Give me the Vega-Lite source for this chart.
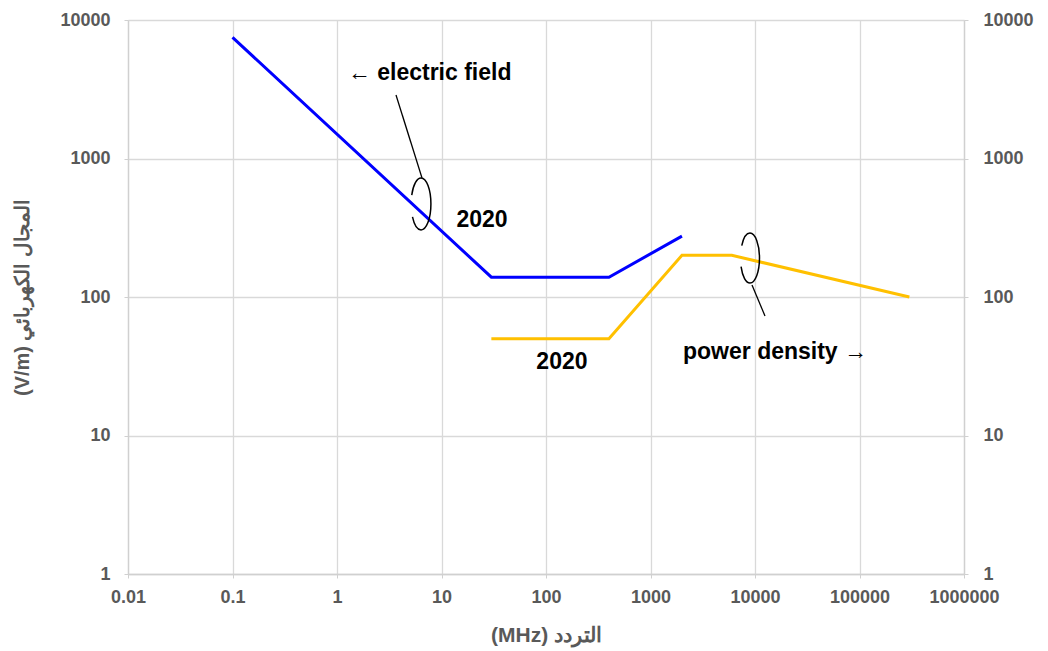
{
  "$schema": "https://vega.github.io/schema/vega-lite/v6.json",
  "width": 836,
  "height": 554,
  "autosize": {"type": "none"},
  "padding": {"left": 128, "top": 20, "right": 84, "bottom": 77},
  "background": "white",
  "config": {
    "view": {"stroke": null},
    "font": "Liberation Sans",
    "axis": {
      "labelFont": "Liberation Sans",
      "labelFontWeight": "bold",
      "labelFontSize": 18,
      "labelColor": "#595959",
      "titleFont": "Liberation Sans",
      "titleFontWeight": "bold",
      "titleFontSize": 20,
      "titleColor": "#595959",
      "gridColor": "#d9d9d9",
      "gridWidth": 1.3,
      "domainColor": "#d0d0d0",
      "domainWidth": 1.3,
      "tickColor": "#d0d0d0",
      "tickSize": 4
    }
  },
  "datasets": {
    "efield": [
      {"f": 0.1, "v": 7500},
      {"f": 30, "v": 139},
      {"f": 400, "v": 139},
      {"f": 2000, "v": 275}
    ],
    "power": [
      {"f": 30, "v": 50},
      {"f": 400, "v": 50},
      {"f": 2000, "v": 200},
      {"f": 6000, "v": 200},
      {"f": 300000, "v": 100}
    ],
    "labels": [
      {"f": 1.27, "v": 4140, "t": "← electric field"},
      {"f": 2047, "v": 40.1, "t": "power density →"}
    ],
    "years": [
      {"f": 24.4, "v": 360, "t": "2020"},
      {"f": 142, "v": 34, "t": "2020"}
    ],
    "leaders": [
      {"f": 3.67, "v": 2874, "f2": 6.51, "v2": 723},
      {"f": 9360, "v": 122, "f2": 12465, "v2": 73}
    ],
    "loop1": [{"f": 6.37, "v": 470}],
    "loop2": [{"f": 8955, "v": 191}]
  },
  "layer": [
    {
      "data": {"name": "efield"},
      "mark": {"type": "line", "color": "#0000ff", "strokeWidth": 3},
      "encoding": {
        "x": {
          "field": "f", "type": "quantitative",
          "scale": {"type": "log", "domain": [0.01, 1000000], "nice": false},
          "axis": {
            "title": "(MHz) التردد",
            "titleFontSize": 21,
            "values": [0.01, 0.1, 1, 10, 100, 1000, 10000, 100000, 1000000],
            "format": ".2~f",
            "grid": true,
            "labelFlush": false,
            "labelOverlap": false,
            "labelPadding": 10,
            "titlePadding": 18
          }
        },
        "y": {
          "field": "v", "type": "quantitative",
          "scale": {"type": "log", "domain": [1, 10000], "nice": false},
          "axis": {
            "orient": "left",
            "title": "(V/m) المجال الكهربائي",
            "values": [1, 10, 100, 1000, 10000],
            "format": "d",
            "grid": true,
            "labelFlush": false,
            "labelOverlap": false,
            "labelPadding": 14,
            "titlePadding": 27
          }
        }
      }
    },
    {
      "data": {"name": "power"},
      "mark": {"type": "line", "color": "#ffc000", "strokeWidth": 3},
      "encoding": {
        "x": {"field": "f", "type": "quantitative", "scale": {"type": "log", "domain": [0.01, 1000000], "nice": false}},
        "y": {
          "field": "v", "type": "quantitative",
          "scale": {"type": "log", "domain": [1, 10000], "nice": false},
          "axis": {
            "orient": "right",
            "title": null,
            "values": [1, 10, 100, 1000, 10000],
            "format": "d",
            "grid": false,
            "labelFlush": false,
            "labelOverlap": false,
            "labelPadding": 15
          }
        }
      }
    },
    {
      "data": {"name": "leaders"},
      "mark": {"type": "rule", "color": "#000000", "strokeWidth": 1.3},
      "encoding": {
        "x": {"field": "f", "type": "quantitative", "scale": {"type": "log", "domain": [0.01, 1000000], "nice": false}},
        "x2": {"field": "f2"},
        "y": {"field": "v", "type": "quantitative", "scale": {"type": "log", "domain": [1, 10000], "nice": false}, "axis": null},
        "y2": {"field": "v2"}
      }
    },
    {
      "data": {"name": "loop1"},
      "mark": {
        "type": "point", "filled": false, "stroke": "#000000", "strokeWidth": 1.5, "opacity": 1, "size": 2704,
        "shape": "M -0.357 -0.342 C -0.302 -0.737 -0.16 -1 0 -1 C 0.21 -1 0.38 -0.552 0.38 0 C 0.38 0.552 0.21 1 0 1 C -0.136 1 -0.261 0.809 -0.329 0.5"
      },
      "encoding": {
        "x": {"field": "f", "type": "quantitative", "scale": {"type": "log", "domain": [0.01, 1000000], "nice": false}},
        "y": {"field": "v", "type": "quantitative", "scale": {"type": "log", "domain": [1, 10000], "nice": false}, "axis": null}
      }
    },
    {
      "data": {"name": "loop2"},
      "mark": {
        "type": "point", "filled": false, "stroke": "#000000", "strokeWidth": 1.5, "opacity": 1, "size": 2500,
        "shape": "M -0.357 0.342 C -0.302 0.737 -0.16 1 0 1 C 0.21 1 0.38 0.552 0.38 0 C 0.38 -0.552 0.21 -1 0 -1 C -0.136 -1 -0.261 -0.809 -0.329 -0.5"
      },
      "encoding": {
        "x": {"field": "f", "type": "quantitative", "scale": {"type": "log", "domain": [0.01, 1000000], "nice": false}},
        "y": {"field": "v", "type": "quantitative", "scale": {"type": "log", "domain": [1, 10000], "nice": false}, "axis": null}
      }
    },
    {
      "data": {"name": "labels"},
      "mark": {"type": "text", "align": "left", "baseline": "middle", "font": "Liberation Sans", "fontWeight": "bold", "fontSize": 23, "color": "#000000"},
      "encoding": {
        "x": {"field": "f", "type": "quantitative", "scale": {"type": "log", "domain": [0.01, 1000000], "nice": false}},
        "y": {"field": "v", "type": "quantitative", "scale": {"type": "log", "domain": [1, 10000], "nice": false}, "axis": null},
        "text": {"field": "t"}
      }
    },
    {
      "data": {"name": "years"},
      "mark": {"type": "text", "align": "center", "baseline": "middle", "font": "Liberation Sans", "fontWeight": "bold", "fontSize": 23, "color": "#000000"},
      "encoding": {
        "x": {"field": "f", "type": "quantitative", "scale": {"type": "log", "domain": [0.01, 1000000], "nice": false}},
        "y": {"field": "v", "type": "quantitative", "scale": {"type": "log", "domain": [1, 10000], "nice": false}, "axis": null},
        "text": {"field": "t"}
      }
    }
  ],
  "resolve": {"scale": {"y": "independent"}, "axis": {"y": "independent"}}
}
